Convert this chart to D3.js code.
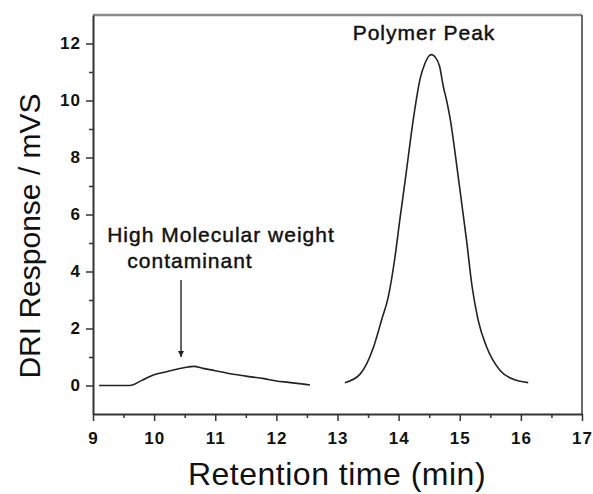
<!DOCTYPE html>
<html>
<head>
<meta charset="utf-8">
<script src="https://cdn.jsdelivr.net/npm/d3@7"></script>
<style>
  html, body { margin: 0; padding: 0; background: #fff; }
  svg { display: block; }
  text { font-family: Arial, "Liberation Sans", Helvetica, sans-serif; fill: #111; }
  .tick text { font-weight: bold; }
  .anno { stroke: #111; stroke-width: 0.45px; }
</style>
</head>
<body>
<svg id="chart" width="593" height="494"></svg>
<script>
// ---- data ----
const contaminantX = [9.1, 9.6, 9.8, 10.0, 10.2, 10.4, 10.55, 10.65, 10.8, 11.0, 11.2, 11.5, 11.8, 12.0, 12.2, 12.55];
const contaminantY = [0, 0, 0.18, 0.38, 0.48, 0.59, 0.65, 0.67, 0.6, 0.52, 0.43, 0.33, 0.24, 0.16, 0.11, 0.02];

const polymerX = [13.12, 13.37, 13.59, 13.72, 13.83, 13.94, 14.02, 14.12, 14.21, 14.28, 14.35, 14.43, 14.5, 14.54, 14.6, 14.67, 14.73, 14.79, 14.84, 14.98, 15.11, 15.2, 15.30, 15.44, 15.66, 15.93, 16.12];
const polymerY = [0.1, 0.4, 1.35, 2.29, 3.1, 4.5, 5.82, 7.4, 8.88, 9.9, 10.75, 11.3, 11.57, 11.61, 11.52, 11.2, 10.5, 9.95, 9.4, 7.24, 5.12, 3.5, 2.3, 1.35, 0.53, 0.18, 0.1];

const xTicks = [9, 10, 11, 12, 13, 14, 15, 16, 17];
const xMinorTicks = [9.5, 10.5, 11.5, 12.5, 13.5, 14.5, 15.5, 16.5];
const yTicks = [0, 2, 4, 6, 8, 10, 12];
const yMinorTicks = [1, 3, 5, 7, 9, 11];

const xTitle = "Retention time (min)";
const yTitle = "DRI Response / mVS";
const peakLabel = "Polymer Peak";
const contaminantLabel = ["High Molecular weight", "contaminant"];
const arrowFrom = [10.44, 3.7];
const arrowTo = [10.44, 1.0];

// ---- layout ----
const svg = d3.select("#chart");
const L = 93, R = 582, T = 15, B = 414;
const x = d3.scaleLinear().domain([9, 17]).range([L, R]);
const y = d3.scaleLinear().domain([-1, 13]).range([B, T]);

// frame (top/right in grey)
svg.append("line").attr("x1", L).attr("x2", R).attr("y1", T).attr("y2", T)
  .attr("stroke", "#8a8a8a").attr("stroke-width", 2.5);
svg.append("line").attr("x1", R).attr("x2", R).attr("y1", T).attr("y2", B)
  .attr("stroke", "#6a6a6a").attr("stroke-width", 2);

// minor ticks
svg.append("g").attr("transform", `translate(0,${B})`)
  .call(d3.axisBottom(x).tickValues(xMinorTicks).tickSize(4).tickSizeOuter(0).tickFormat(""))
  .call(g => g.select(".domain").remove())
  .call(g => g.selectAll("line").attr("stroke", "#333").attr("stroke-width", 1.5));
svg.append("g").attr("transform", `translate(${L},0)`)
  .call(d3.axisLeft(y).tickValues(yMinorTicks).tickSize(4).tickSizeOuter(0).tickFormat(""))
  .call(g => g.select(".domain").remove())
  .call(g => g.selectAll("line").attr("stroke", "#333").attr("stroke-width", 1.5));

// major axes
const xAxis = svg.append("g").attr("transform", `translate(0,${B})`)
  .call(d3.axisBottom(x).tickValues(xTicks).tickSize(7).tickSizeOuter(0).tickPadding(11).tickFormat(d3.format("d")));
const yAxis = svg.append("g").attr("transform", `translate(${L},0)`)
  .call(d3.axisLeft(y).tickValues(yTicks).tickSize(7).tickSizeOuter(0).tickPadding(5).tickFormat(d3.format("d")));
[xAxis, yAxis].forEach(g => {
  g.attr("font-family", null).attr("font-size", null);
  g.select(".domain").attr("stroke", "#333").attr("stroke-width", 2);
  g.selectAll(".tick line").attr("stroke", "#333").attr("stroke-width", 1.5);
  g.selectAll(".tick text")
    .attr("font-weight", "bold")
    .style("font-family", "Arial, 'Liberation Sans', sans-serif")
    .style("font-size", "17px").style("font-weight", "700")
    .style("letter-spacing", "1px").attr("fill", "#222");
});

// curves
const line = d3.line().x(d => x(d[0])).y(d => y(d[1])).curve(d3.curveMonotoneX);
const seg1 = contaminantX.map((v, i) => [v, contaminantY[i]]);
const seg2 = polymerX.map((v, i) => [v, polymerY[i]]);
[seg1, seg2].forEach(s => {
  svg.append("path").datum(s).attr("d", line)
    .attr("fill", "none").attr("stroke", "#222").attr("stroke-width", 1.6)
    .attr("stroke-linejoin", "round");
});

// arrow
svg.append("defs").append("marker")
  .attr("id", "ah").attr("viewBox", "0 0 10 10").attr("refX", 10).attr("refY", 5)
  .attr("markerWidth", 6).attr("markerHeight", 7).attr("markerUnits", "userSpaceOnUse")
  .attr("orient", "auto")
  .append("path").attr("d", "M0,0 L10,5 L0,10 Z").attr("fill", "#222");
svg.append("line")
  .attr("x1", x(arrowFrom[0])).attr("y1", y(arrowFrom[1]))
  .attr("x2", x(arrowTo[0])).attr("y2", y(arrowTo[1]))
  .attr("stroke", "#222").attr("stroke-width", 1.4).attr("marker-end", "url(#ah)");

// annotations
svg.append("text").attr("class", "anno").attr("x", 221).attr("y", 242).attr("text-anchor", "middle")
  .style("font-size", "21px").style("letter-spacing", "1px").text(contaminantLabel[0]);
svg.append("text").attr("class", "anno").attr("x", 190).attr("y", 268).attr("text-anchor", "middle")
  .style("font-size", "21px").style("letter-spacing", "1px").text(contaminantLabel[1]);
svg.append("text").attr("class", "anno").attr("x", 424).attr("y", 40).attr("text-anchor", "middle")
  .style("font-size", "21px").style("letter-spacing", "1px").text(peakLabel);

// axis titles
svg.append("text").attr("x", 337).attr("y", 485).attr("text-anchor", "middle")
  .style("font-size", "32px").style("letter-spacing", "0.5px").text(xTitle);
svg.append("text").attr("transform", "translate(40,236) rotate(-90)").attr("text-anchor", "middle")
  .style("font-size", "30px").text(yTitle);
</script>
</body>
</html>
